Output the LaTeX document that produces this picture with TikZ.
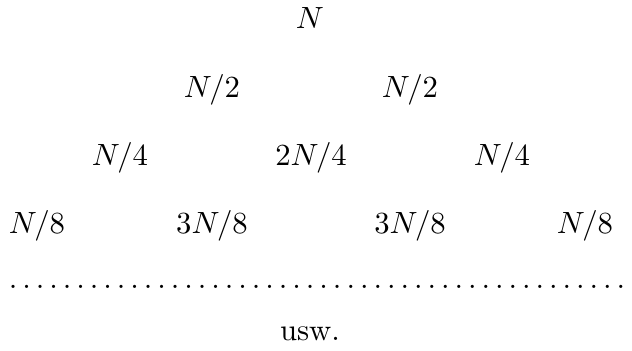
\documentclass[tikz,border=0pt]{standalone}
\begin{document}
\begin{tikzpicture}[x=0.3257pt,y=-0.3257pt,
  lbl/.style={anchor=base,inner sep=0pt,outer sep=0pt}]
\useasboundingbox (0,0) rectangle (632,350);
\node[lbl] (n1) at (310,28) {$N$};
\node[lbl] (n21) at (212,97) {$N/2$};
\node[lbl] (n22) at (410,97) {$N/2$};
\node[lbl] (n41) at (120,165) {$N/4$};
\node[lbl] (n42) at (311,165) {$2N/4$};
\node[lbl] (n43) at (502,165) {$N/4$};
\node[lbl] (n81) at (37,233) {$N/8$};
\node[lbl] (n82) at (212,233) {$3N/8$};
\node[lbl] (n83) at (410,233) {$3N/8$};
\node[lbl] (n84) at (585,233) {$N/8$};
\node[lbl] (dots) at (317,288) {\makebox[203pt]{\dotfill}};
\node[lbl] (usw) at (310,340) {usw.};
\end{tikzpicture}
\end{document}
